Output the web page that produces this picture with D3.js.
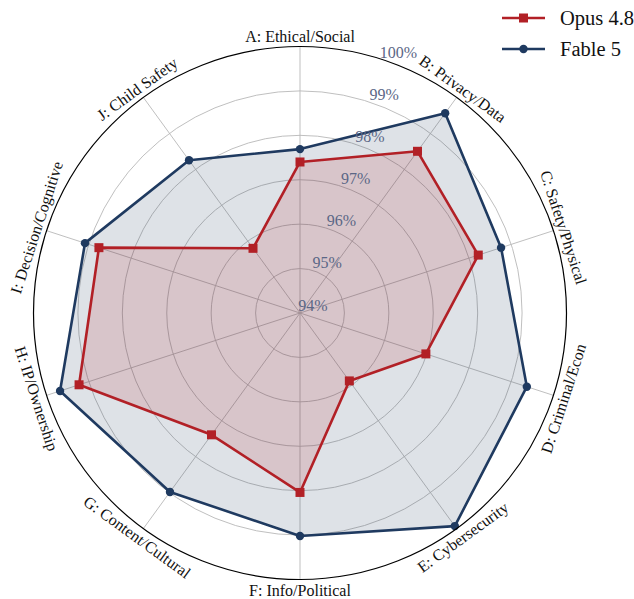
<!DOCTYPE html>
<html>
<head>
<meta charset="utf-8">
<script src="https://cdnjs.cloudflare.com/ajax/libs/d3/7.8.5/d3.min.js"></script>
<style>
  body { margin: 0; background: #fff; }
  text { font-family: "Liberation Serif", "DejaVu Serif", serif; }
</style>
</head>
<body>
<div id="chart"></div>
<script>
// categories round the radar, clockwise from the top
var categories = ["A: Ethical/Social", "B: Privacy/Data", "C: Safety/Physical", "D: Criminal/Econ",
  "E: Cybersecurity", "F: Info/Political", "G: Content/Cultural", "H: IP/Ownership",
  "I: Decision/Cognitive", "J: Child Safety"];

var opus = [97.40, 98.50, 98.22, 96.98, 95.89, 98.04, 97.39, 99.23, 98.76, 95.80];
var fable = [97.69, 99.56, 98.76, 99.37, 99.93, 99.02, 98.98, 99.68, 99.09, 98.25];

var seriesNames = ["Opus 4.8", "Fable 5"];
var rTicks = [94, 95, 96, 97, 98, 99, 100];

var W = 634, H = 599;
var cx = 300, cy = 313, R = 266.5;

var svg = d3.select("#chart").append("svg")
  .attr("width", W)
  .attr("height", H);

var r = d3.scaleLinear().domain([94, 100]).range([0, R]);
var ang = d3.scaleLinear().domain([0, categories.length]).range([0, 2 * Math.PI]);

function px(i, v) { return cx + r(v) * Math.sin(ang(i)); }
function py(i, v) { return cy - r(v) * Math.cos(ang(i)); }

var g = svg.append("g");

// grid rings
g.selectAll(".ring")
  .data(rTicks.slice(1, -1))
  .enter().append("circle")
  .attr("cx", cx).attr("cy", cy)
  .attr("r", function(d) { return r(d); })
  .attr("fill", "none")
  .attr("stroke", "#b8b8b8")
  .attr("stroke-width", 0.9);

// spokes
g.selectAll(".spoke")
  .data(categories)
  .enter().append("line")
  .attr("x1", cx).attr("y1", cy)
  .attr("x2", function(d, i) { return px(i, 100); })
  .attr("y2", function(d, i) { return py(i, 100); })
  .attr("stroke", "#b8b8b8")
  .attr("stroke-width", 0.9);

var line = d3.line().curve(d3.curveLinearClosed);

function pts(vals) {
  return vals.map(function(v, i) { return [px(i, v), py(i, v)]; });
}

var colRed = "#b22026", colBlue = "#1f3a60";

// fills
g.append("path").attr("d", line(pts(fable)))
  .attr("fill", colBlue).attr("fill-opacity", 0.15);
g.append("path").attr("d", line(pts(opus)))
  .attr("fill", colRed).attr("fill-opacity", 0.15);

// outlines
g.append("path").attr("d", line(pts(fable)))
  .attr("fill", "none").attr("stroke", colBlue).attr("stroke-width", 2.6)
  .attr("stroke-linejoin", "round");
g.append("path").attr("d", line(pts(opus)))
  .attr("fill", "none").attr("stroke", colRed).attr("stroke-width", 2.6)
  .attr("stroke-linejoin", "round");

// markers
g.selectAll(".mb")
  .data(fable)
  .enter().append("circle")
  .attr("cx", function(d, i) { return px(i, d); })
  .attr("cy", function(d, i) { return py(i, d); })
  .attr("r", 4.2)
  .attr("fill", colBlue);

g.selectAll(".mr")
  .data(opus)
  .enter().append("rect")
  .attr("x", function(d, i) { return px(i, d) - 4.5; })
  .attr("y", function(d, i) { return py(i, d) - 4.5; })
  .attr("width", 9).attr("height", 9)
  .attr("fill", colRed);

// outer frame
g.append("circle")
  .attr("cx", cx).attr("cy", cy).attr("r", R)
  .attr("fill", "none").attr("stroke", "#000").attr("stroke-width", 1.2);

// radial tick labels
var labAng = 18.7 * Math.PI / 180;
g.selectAll(".rlab")
  .data(rTicks)
  .enter().append("text")
  .attr("x", function(d) { return cx + 13 + r(d) * Math.sin(labAng); })
  .attr("y", function(d) { return cy - 8 - r(d) * Math.cos(labAng); })
  .attr("text-anchor", "middle")
  .attr("dominant-baseline", "central")
  .attr("font-size", 16)
  .attr("fill", "#5b6786")
  .text(function(d) { return d + "%"; });

// category labels along the rim
var labR = 277;
g.selectAll(".clab")
  .data(categories)
  .enter().append("text")
  .attr("transform", function(d, i) {
    var a = ang(i) * 180 / Math.PI;
    var rot = a;
    if (a > 90 && a < 270) rot = a - 180;
    else if (a >= 270) rot = a - 360;
    return "translate(" + px(i, 94 + 6 * labR / R) + "," + py(i, 94 + 6 * labR / R) + ") rotate(" + rot + ")";
  })
  .attr("text-anchor", "middle")
  .attr("dominant-baseline", "central")
  .attr("font-size", 16)
  .attr("fill", "#111")
  .text(function(d) { return d; });

// legend
var leg = svg.append("g").attr("transform", "translate(502,18)");
var legCols = [colRed, colBlue];
seriesNames.forEach(function(name, i) {
  var row = leg.append("g").attr("transform", "translate(0," + (i * 31) + ")");
  row.append("line").attr("x1", 0).attr("x2", 43).attr("y1", 0).attr("y2", 0)
    .attr("stroke", legCols[i]).attr("stroke-width", 2.6);
  if (i == 0) {
    row.append("rect").attr("x", 17).attr("y", -4.5).attr("width", 9).attr("height", 9).attr("fill", legCols[i]);
  } else {
    row.append("circle").attr("cx", 21.5).attr("cy", 0).attr("r", 4.2).attr("fill", legCols[i]);
  }
  row.append("text").attr("x", 58).attr("y", 0)
    .attr("dominant-baseline", "central")
    .attr("font-size", 20.5)
    .attr("fill", "#111")
    .text(name);
});
</script>
</body>
</html>
